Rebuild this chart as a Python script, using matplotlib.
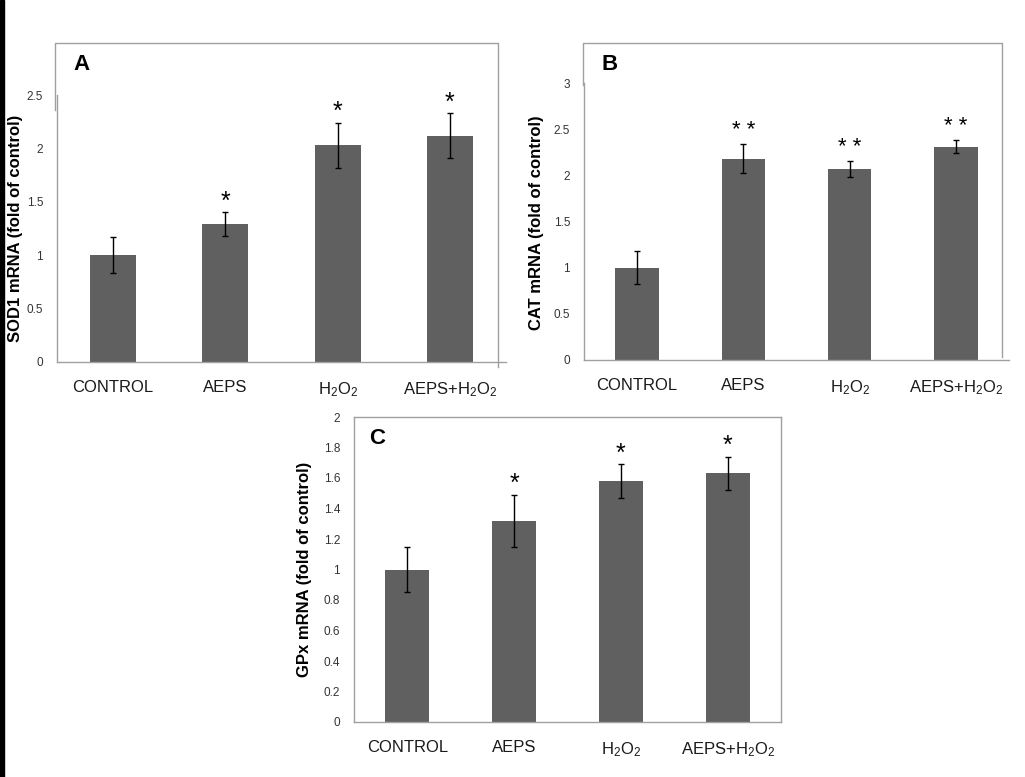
import matplotlib.pyplot as plt
from matplotlib.lines import Line2D
from matplotlib.patches import Rectangle

plt.rcParams["font.family"] = ["Liberation Sans", "DejaVu Sans"]
plt.rcParams["mathtext.fontset"] = "custom"
plt.rcParams["mathtext.rm"] = "Liberation Sans"
plt.rcParams["mathtext.it"] = "Liberation Sans:italic"
plt.rcParams["mathtext.bf"] = "Liberation Sans:bold"

W, H = 1025, 777

groups = ["CONTROL", "AEPS", r"H$_\mathrm{2}$O$_\mathrm{2}$", r"AEPS+H$_\mathrm{2}$O$_\mathrm{2}$"]

sod1 = [1.00, 1.29, 2.03, 2.12]
sod1_err = [0.17, 0.11, 0.21, 0.21]
sod1_sig = ["", "*", "*", "*"]

cat = [1.00, 2.18, 2.07, 2.31]
cat_err = [0.18, 0.16, 0.09, 0.07]
cat_sig = ["", "* *", "* *", "* *"]

gpx = [1.00, 1.32, 1.58, 1.63]
gpx_err = [0.15, 0.17, 0.11, 0.11]
gpx_sig = ["", "*", "*", "*"]

bar_color = "#606060"
frame_color = "#a0a0a0"


def fx(x):
    return x / W


def fy(y):
    return 1 - y / H


def add_axes(x0, y0, x1, y1):
    # pixel box -> figure fraction
    return fig.add_axes([fx(x0), fy(y1), (x1 - x0) / W, (y1 - y0) / H])


def fig_line(xs, ys):
    fig.add_artist(Line2D([fx(x) for x in xs], [fy(y) for y in ys],
                          color=frame_color, lw=1.0, transform=fig.transFigure))


def panel(ax, vals, errs, sig, ymax, step, star_size, star_off):
    x = range(len(groups))
    ax.bar(x, vals, width=0.41, color=bar_color, zorder=2)
    ax.errorbar(x, vals, yerr=errs, fmt="none", ecolor="black",
                elinewidth=1.0, capsize=2.5, capthick=1.0, zorder=3)
    for i, s in enumerate(sig):
        if s:
            ax.annotate(s, (i, vals[i] + errs[i]), xytext=(0, star_off),
                        textcoords="offset points", ha="center", va="bottom",
                        fontsize=star_size, color="black")
    ax.set_xlim(-0.5, 3.5)
    ax.set_ylim(0, ymax)
    ticks = [round(k * step, 2) for k in range(int(round(ymax / step)) + 1)]
    ax.set_yticks(ticks)
    ax.set_yticklabels([f"{t:g}" for t in ticks])
    ax.set_xticks(list(x))
    ax.set_xticklabels(groups)
    ax.tick_params(axis="y", length=0, pad=10, labelsize=8.5, labelcolor="#333333")
    ax.tick_params(axis="x", length=0, pad=13, labelsize=12, labelcolor="#1a1a1a")
    for side in ["left", "bottom", "right", "top"]:
        ax.spines[side].set_color(frame_color)
        ax.spines[side].set_linewidth(1.0)
    ax.patch.set_alpha(0)


fig = plt.figure(figsize=(W / 100, H / 100), dpi=100)

# black strip on the left edge
fig.add_artist(Rectangle((0, 0), fx(4), 1, color="black", transform=fig.transFigure))

label_kw = dict(rotation=90, fontsize=12, fontweight="bold", ha="center", va="center")
letter_kw = dict(fontsize=16, fontweight="bold", ha="center", va="center")

# Panel A
axA = add_axes(57, 95, 506, 362)
panel(axA, sod1, sod1_err, sod1_sig, 2.5, 0.5, 18, -1)
axA.spines["top"].set_visible(False)
axA.spines["right"].set_visible(False)
fig_line([55, 55, 498, 498], [110, 43, 43, 367])
fig.text(fx(81), fy(65), "A", **letter_kw)
fig.text(fx(16), fy(228), "SOD1 mRNA (fold of control)", **label_kw)

# Panel B
axB = add_axes(584, 83, 1009, 360)
panel(axB, cat, cat_err, cat_sig, 3, 0.5, 16, 2)
axB.spines["top"].set_visible(False)
axB.spines["right"].set_visible(False)
fig_line([583, 583, 1002, 1002], [85, 43, 43, 357])
fig.text(fx(610), fy(64), "B", **letter_kw)
fig.text(fx(536), fy(223), "CAT mRNA (fold of control)", **label_kw)

# Panel C
axC = add_axes(354, 417, 781, 722)
panel(axC, gpx, gpx_err, gpx_sig, 2, 0.2, 18, -1)
fig.text(fx(377), fy(439), "C", **letter_kw)
fig.text(fx(305), fy(569), "GPx mRNA (fold of control)", **label_kw)

fig.savefig("out.png", dpi=100)
